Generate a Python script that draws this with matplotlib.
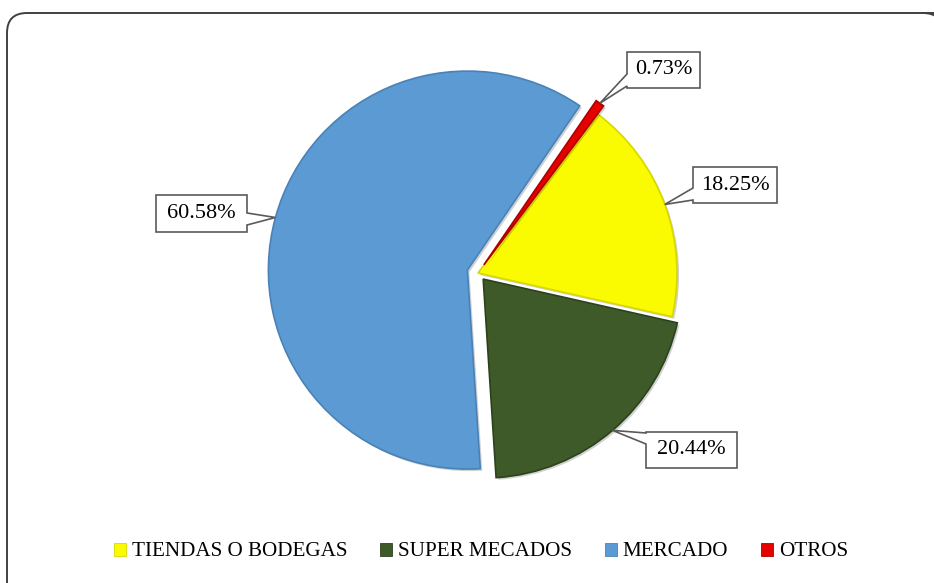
import matplotlib
matplotlib.use('Agg')
import matplotlib.pyplot as plt
import matplotlib.patheffects as pe
from matplotlib.patches import PathPatch, Patch
from matplotlib.path import Path
import numpy as np

plt.rcParams['font.family'] = ['Liberation Serif', 'DejaVu Serif']

# datos
categorias = ['TIENDAS O BODEGAS', 'SUPER MECADOS', 'MERCADO', 'OTROS']
porcentajes = [18.25, 20.44, 60.58, 0.73]
colores = ['#FAFA00', '#3E5A28', '#5B9AD2', '#E60000']
bordes = ['#D8D800', '#2C421C', '#4A82B8', '#B00000']
explode_px = [0, 8, 11, 10]

W, H = 934, 583
fig = plt.figure(figsize=(W / 100, H / 100), dpi=100)
fig.patch.set_facecolor('white')
ax = fig.add_axes([0, 0, 1, 1])

# pie en coordenadas de pixel (y desde abajo); explode va en unidades de datos
cx, cy, R = 478, H - 273, 199
start = 53
wedges, _ = ax.pie(porcentajes, colors=colores, startangle=start,
                   counterclock=False, radius=R, center=(cx, cy),
                   explode=explode_px,
                   wedgeprops=dict(linewidth=1.2))
for w, b in zip(wedges, bordes):
    w.set_edgecolor(b)
    # sombra suave tipo Excel
    w.set_path_effects([pe.SimplePatchShadow(offset=(1.5, -1.5), shadow_rgbFace='#000000',
                                             alpha=0.18),
                        pe.Normal()])

ax.set_xlim(0, W)
ax.set_ylim(0, H)
ax.set_aspect('auto')
ax.axis('off')

# marco redondeado: solo se ven el borde izquierdo y el superior
x_izq, y_sup, rr = 7, H - 13, 20
marco = Path([(x_izq, -50), (x_izq, y_sup - rr), (x_izq, y_sup), (x_izq + rr, y_sup),
              (W + 50, y_sup)],
             [Path.MOVETO, Path.LINETO, Path.CURVE3, Path.CURVE3, Path.LINETO])
ax.add_patch(PathPatch(marco, fill=False, edgecolor='#404040', linewidth=1.4,
                       clip_on=False))
# esquina superior derecha que empieza a bajar en el borde
esq = Path([(W - 11, y_sup), (W + 9, y_sup), (W + 9, y_sup - rr)],
           [Path.MOVETO, Path.CURVE3, Path.CURVE3])
ax.add_patch(PathPatch(esq, fill=False, edgecolor='#404040', linewidth=1.4,
                       clip_on=False))

# etiquetas tipo callout: caja (x0, y0, x1, y1 en px desde arriba), lado y base del puntero
cajas = [
    (693, 167, 777, 203, 'left', (188, 200)),
    (646, 432, 737, 468, 'left', (433, 444)),
    (156, 195, 247, 232, 'right', (213, 225)),
    (627, 52, 700, 88, 'left', (74, 86)),
]

Y = lambda y: H - y
theta = start
for i, p in enumerate(porcentajes):
    span = p / 100 * 360
    mid = np.deg2rad(theta - span / 2)
    theta -= span
    punta = (cx + (R + explode_px[i]) * np.cos(mid),
             cy + (R + explode_px[i]) * np.sin(mid))
    x0, y0, x1, y1, lado, (b1, b2) = cajas[i]
    if lado == 'left':
        verts = [(x0, Y(y0)), (x1, Y(y0)), (x1, Y(y1)), (x0, Y(y1)),
                 (x0, Y(b2)), punta, (x0, Y(b1)), (x0, Y(y0))]
    else:
        verts = [(x0, Y(y0)), (x1, Y(y0)), (x1, Y(b1)), punta,
                 (x1, Y(b2)), (x1, Y(y1)), (x0, Y(y1)), (x0, Y(y0))]
    codes = [Path.MOVETO] + [Path.LINETO] * (len(verts) - 2) + [Path.CLOSEPOLY]
    ax.add_patch(PathPatch(Path(verts, codes), facecolor='white',
                           edgecolor='#5A5A5A', linewidth=1.2, zorder=5))
    ax.text((x0 + x1) / 2, Y((y0 + y1) / 2), f'{p:.2f}%', fontsize=16,
            ha='center', va='center', color='black', zorder=6)

# leyenda
handles = [Patch(facecolor=c, edgecolor=b, linewidth=0.6) for c, b in zip(colores, bordes)]
fig.legend(handles, categorias, loc='center', bbox_to_anchor=(481 / W, 1 - 552 / H),
           ncol=4, frameon=False, fontsize=15.2, handlelength=0.57,
           handleheight=0.57, handletextpad=0.28, columnspacing=1.55,
           borderpad=0, borderaxespad=0)

fig.savefig('out.png', dpi=100, facecolor='white')
